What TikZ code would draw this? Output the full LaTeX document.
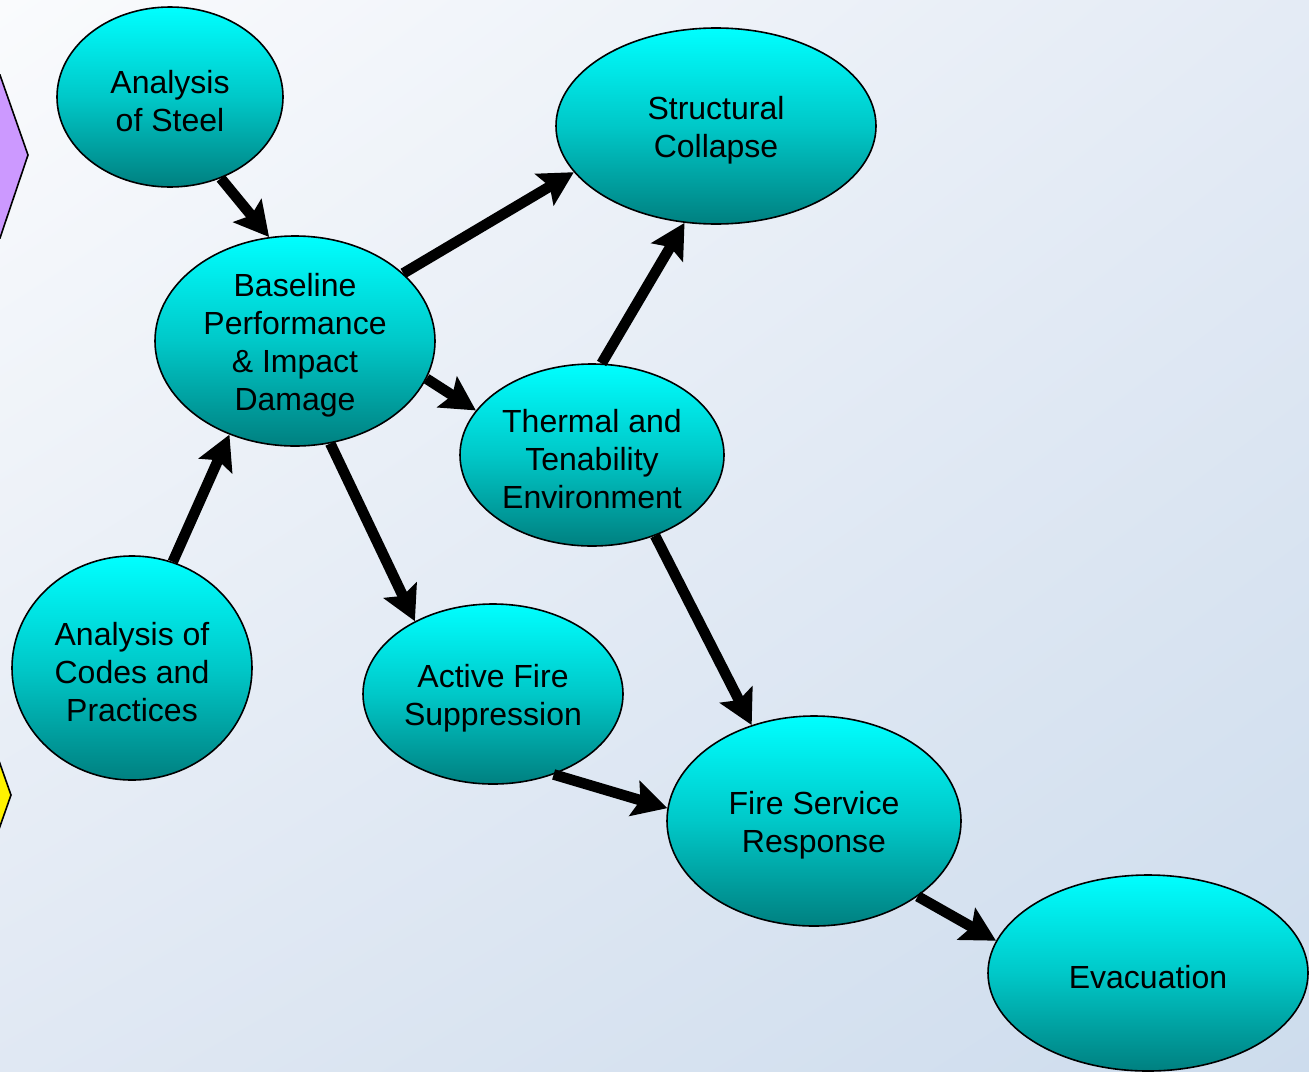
\documentclass[tikz,border=0pt]{standalone}
\usepackage{fontspec}
\setmainfont{Liberation Sans}
\usetikzlibrary{shapes.geometric,arrows.meta,shadings}
\definecolor{bgUL}{RGB}{250,251,253}
\definecolor{bgUR}{RGB}{228,235,245}
\definecolor{bgLL}{RGB}{224,232,243}
\definecolor{bgLR}{RGB}{205,220,237}
\definecolor{cyanTop}{RGB}{0,255,255}
\definecolor{cyanMid}{RGB}{0,200,200}
\definecolor{tealBot}{RGB}{0,128,128}
\definecolor{lilac}{RGB}{204,153,255}
\begin{document}
\begin{tikzpicture}[x=0.5pt,y=-0.5pt,
  bubble/.style={ellipse,draw=black,line width=0.8pt,inner sep=0pt,
    top color=cyanTop,bottom color=tealBot,middle color=cyanMid},
  txt/.style={align=center,inner sep=0pt,yshift=-2pt,font=\fontsize{16}{19}\selectfont},
  link/.style={line width=5.3pt,-{Stealth[length=17pt,width=18pt,inset=3pt]}}]
\useasboundingbox (0,0) rectangle (1309,1071);
\begin{scope}
\clip (0,0) rectangle (1309,1071);
\shade[upper left=bgUL,upper right=bgUR,lower left=bgLL,lower right=bgLR] (0,0) rectangle (1309,1071);
\draw[fill=lilac,line width=0.8pt] (-40,75) -- (0,75) -- (28,155) -- (0,238) -- (-40,238) -- cycle;
\draw[fill=yellow,line width=0.8pt] (-40,758) -- (-2,758) -- (11,795) -- (-2,832) -- (-40,832) -- cycle;

\node[bubble,minimum width=113pt,minimum height=90pt] (steel) at (170,97) {};
\node[txt] (steelT) at (steel) {Analysis\\of Steel};
\node[bubble,minimum width=160pt,minimum height=98pt] (coll) at (716,126) {};
\node[txt] (collT) at (coll) {Structural\\Collapse};
\node[bubble,minimum width=140pt,minimum height=105pt] (base) at (295,341) {};
\node[txt] (baseT) at (base) {Baseline\\Performance\\\& Impact\\Damage};
\node[bubble,minimum width=132pt,minimum height=91pt] (therm) at (592,455) {};
\node[txt] (thermT) at (therm) {Thermal and\\Tenability\\Environment};
\node[bubble,minimum width=120pt,minimum height=112pt] (codes) at (132,668) {};
\node[txt] (codesT) at (codes) {Analysis of\\Codes and\\Practices};
\node[bubble,minimum width=130pt,minimum height=90pt] (active) at (493,694) {};
\node[txt] (activeT) at (active) {Active Fire\\Suppression};
\node[bubble,minimum width=147pt,minimum height=105pt] (fire) at (814,821) {};
\node[txt] (fireT) at (fire) {Fire Service\\Response};
\node[bubble,minimum width=160pt,minimum height=98pt] (evac) at (1148,973) {};
\node[txt] (evacT) at (evac) {Evacuation};

\draw[link] (steel.-58) -- (base.104);
\draw[link] (base.32) -- (coll.-162);
\draw[link] (base.-16) -- (therm.159);
\draw[link] (codes.69) -- (base.-125);
\draw[link] (base.-71) -- (active.137);
\draw[link] (therm.84) -- (coll.-108);
\draw[link] (therm.-52) -- (fire.123);
\draw[link] (active.-53) -- (fire.175);
\draw[link] (fire.-36) -- (evac.168);
\end{scope}
\end{tikzpicture}
\end{document}
